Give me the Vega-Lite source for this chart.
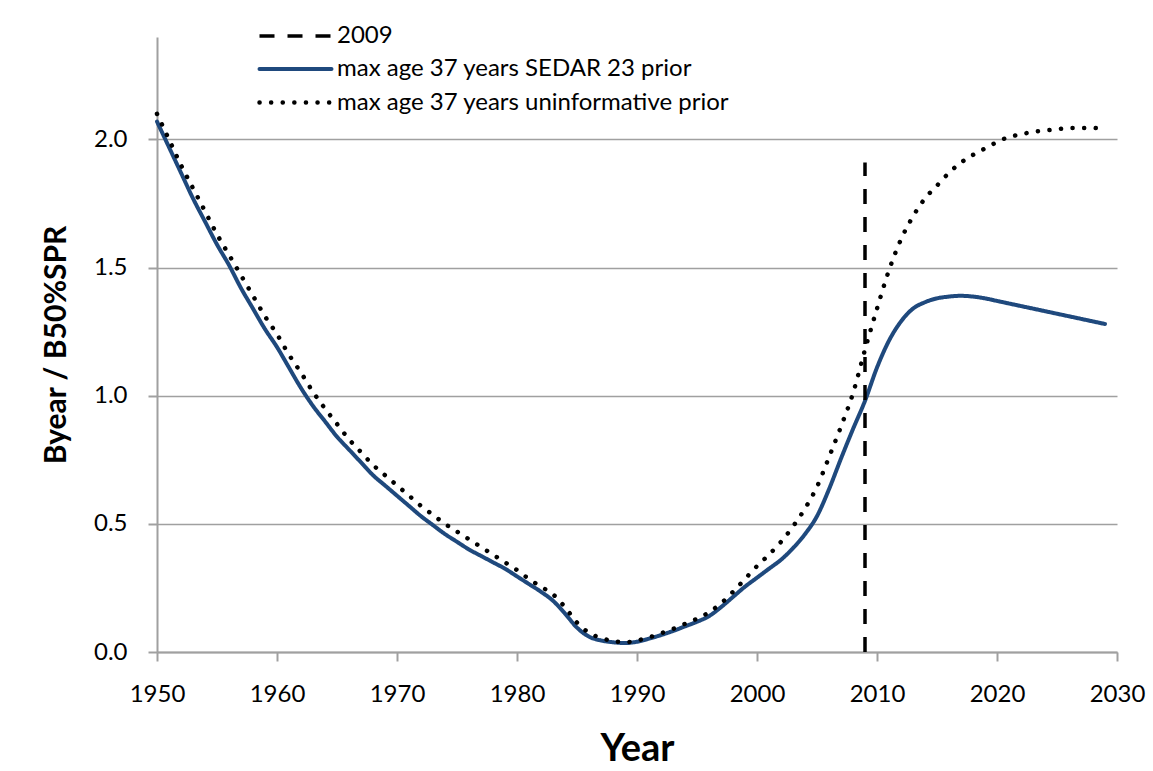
{
  "$schema": "https://vega.github.io/schema/vega-lite/v6.json",
  "width": 960,
  "height": 615,
  "autosize": {"type": "none"},
  "padding": {"left": 157, "top": 37, "right": 36, "bottom": 119},
  "background": "white",
  "datasets": {
    "series": [
      {"series": "max age 37 years SEDAR 23 prior", "year": 1950, "v": 2.07},
      {"series": "max age 37 years SEDAR 23 prior", "year": 1951, "v": 1.97},
      {"series": "max age 37 years SEDAR 23 prior", "year": 1952, "v": 1.87},
      {"series": "max age 37 years SEDAR 23 prior", "year": 1953, "v": 1.77},
      {"series": "max age 37 years SEDAR 23 prior", "year": 1954, "v": 1.68},
      {"series": "max age 37 years SEDAR 23 prior", "year": 1955, "v": 1.59},
      {"series": "max age 37 years SEDAR 23 prior", "year": 1956, "v": 1.51},
      {"series": "max age 37 years SEDAR 23 prior", "year": 1957, "v": 1.42},
      {"series": "max age 37 years SEDAR 23 prior", "year": 1958, "v": 1.34},
      {"series": "max age 37 years SEDAR 23 prior", "year": 1959, "v": 1.26},
      {"series": "max age 37 years SEDAR 23 prior", "year": 1960, "v": 1.19},
      {"series": "max age 37 years SEDAR 23 prior", "year": 1961, "v": 1.11},
      {"series": "max age 37 years SEDAR 23 prior", "year": 1962, "v": 1.03},
      {"series": "max age 37 years SEDAR 23 prior", "year": 1963, "v": 0.96},
      {"series": "max age 37 years SEDAR 23 prior", "year": 1964, "v": 0.9},
      {"series": "max age 37 years SEDAR 23 prior", "year": 1965, "v": 0.84},
      {"series": "max age 37 years SEDAR 23 prior", "year": 1966, "v": 0.79},
      {"series": "max age 37 years SEDAR 23 prior", "year": 1967, "v": 0.74},
      {"series": "max age 37 years SEDAR 23 prior", "year": 1968, "v": 0.69},
      {"series": "max age 37 years SEDAR 23 prior", "year": 1969, "v": 0.65},
      {"series": "max age 37 years SEDAR 23 prior", "year": 1970, "v": 0.61},
      {"series": "max age 37 years SEDAR 23 prior", "year": 1971, "v": 0.57},
      {"series": "max age 37 years SEDAR 23 prior", "year": 1972, "v": 0.53},
      {"series": "max age 37 years SEDAR 23 prior", "year": 1973, "v": 0.495},
      {"series": "max age 37 years SEDAR 23 prior", "year": 1974, "v": 0.46},
      {"series": "max age 37 years SEDAR 23 prior", "year": 1975, "v": 0.43},
      {"series": "max age 37 years SEDAR 23 prior", "year": 1976, "v": 0.4},
      {"series": "max age 37 years SEDAR 23 prior", "year": 1977, "v": 0.375},
      {"series": "max age 37 years SEDAR 23 prior", "year": 1978, "v": 0.35},
      {"series": "max age 37 years SEDAR 23 prior", "year": 1979, "v": 0.325},
      {"series": "max age 37 years SEDAR 23 prior", "year": 1980, "v": 0.295},
      {"series": "max age 37 years SEDAR 23 prior", "year": 1981, "v": 0.265},
      {"series": "max age 37 years SEDAR 23 prior", "year": 1982, "v": 0.235},
      {"series": "max age 37 years SEDAR 23 prior", "year": 1983, "v": 0.2},
      {"series": "max age 37 years SEDAR 23 prior", "year": 1984, "v": 0.15},
      {"series": "max age 37 years SEDAR 23 prior", "year": 1985, "v": 0.095},
      {"series": "max age 37 years SEDAR 23 prior", "year": 1986, "v": 0.06},
      {"series": "max age 37 years SEDAR 23 prior", "year": 1987, "v": 0.045},
      {"series": "max age 37 years SEDAR 23 prior", "year": 1988, "v": 0.038},
      {"series": "max age 37 years SEDAR 23 prior", "year": 1989, "v": 0.035},
      {"series": "max age 37 years SEDAR 23 prior", "year": 1990, "v": 0.04},
      {"series": "max age 37 years SEDAR 23 prior", "year": 1991, "v": 0.052},
      {"series": "max age 37 years SEDAR 23 prior", "year": 1992, "v": 0.066},
      {"series": "max age 37 years SEDAR 23 prior", "year": 1993, "v": 0.082},
      {"series": "max age 37 years SEDAR 23 prior", "year": 1994, "v": 0.1},
      {"series": "max age 37 years SEDAR 23 prior", "year": 1995, "v": 0.118},
      {"series": "max age 37 years SEDAR 23 prior", "year": 1996, "v": 0.14},
      {"series": "max age 37 years SEDAR 23 prior", "year": 1997, "v": 0.175},
      {"series": "max age 37 years SEDAR 23 prior", "year": 1998, "v": 0.215},
      {"series": "max age 37 years SEDAR 23 prior", "year": 1999, "v": 0.255},
      {"series": "max age 37 years SEDAR 23 prior", "year": 2000, "v": 0.29},
      {"series": "max age 37 years SEDAR 23 prior", "year": 2001, "v": 0.325},
      {"series": "max age 37 years SEDAR 23 prior", "year": 2002, "v": 0.36},
      {"series": "max age 37 years SEDAR 23 prior", "year": 2003, "v": 0.405},
      {"series": "max age 37 years SEDAR 23 prior", "year": 2004, "v": 0.46},
      {"series": "max age 37 years SEDAR 23 prior", "year": 2005, "v": 0.53},
      {"series": "max age 37 years SEDAR 23 prior", "year": 2006, "v": 0.635},
      {"series": "max age 37 years SEDAR 23 prior", "year": 2007, "v": 0.755},
      {"series": "max age 37 years SEDAR 23 prior", "year": 2008, "v": 0.87},
      {"series": "max age 37 years SEDAR 23 prior", "year": 2009, "v": 0.98},
      {"series": "max age 37 years SEDAR 23 prior", "year": 2010, "v": 1.11},
      {"series": "max age 37 years SEDAR 23 prior", "year": 2011, "v": 1.215},
      {"series": "max age 37 years SEDAR 23 prior", "year": 2012, "v": 1.29},
      {"series": "max age 37 years SEDAR 23 prior", "year": 2013, "v": 1.34},
      {"series": "max age 37 years SEDAR 23 prior", "year": 2014, "v": 1.365},
      {"series": "max age 37 years SEDAR 23 prior", "year": 2015, "v": 1.38},
      {"series": "max age 37 years SEDAR 23 prior", "year": 2016, "v": 1.387},
      {"series": "max age 37 years SEDAR 23 prior", "year": 2017, "v": 1.39},
      {"series": "max age 37 years SEDAR 23 prior", "year": 2018, "v": 1.387},
      {"series": "max age 37 years SEDAR 23 prior", "year": 2019, "v": 1.38},
      {"series": "max age 37 years SEDAR 23 prior", "year": 2020, "v": 1.37},
      {"series": "max age 37 years SEDAR 23 prior", "year": 2021, "v": 1.36},
      {"series": "max age 37 years SEDAR 23 prior", "year": 2022, "v": 1.35},
      {"series": "max age 37 years SEDAR 23 prior", "year": 2023, "v": 1.34},
      {"series": "max age 37 years SEDAR 23 prior", "year": 2024, "v": 1.33},
      {"series": "max age 37 years SEDAR 23 prior", "year": 2025, "v": 1.32},
      {"series": "max age 37 years SEDAR 23 prior", "year": 2026, "v": 1.31},
      {"series": "max age 37 years SEDAR 23 prior", "year": 2027, "v": 1.3},
      {"series": "max age 37 years SEDAR 23 prior", "year": 2028, "v": 1.29},
      {"series": "max age 37 years SEDAR 23 prior", "year": 2029, "v": 1.28},
      {"series": "max age 37 years uninformative prior", "year": 1950, "v": 2.1},
      {"series": "max age 37 years uninformative prior", "year": 1951, "v": 2.0},
      {"series": "max age 37 years uninformative prior", "year": 1952, "v": 1.9},
      {"series": "max age 37 years uninformative prior", "year": 1953, "v": 1.81},
      {"series": "max age 37 years uninformative prior", "year": 1954, "v": 1.72},
      {"series": "max age 37 years uninformative prior", "year": 1955, "v": 1.63},
      {"series": "max age 37 years uninformative prior", "year": 1956, "v": 1.55},
      {"series": "max age 37 years uninformative prior", "year": 1957, "v": 1.47},
      {"series": "max age 37 years uninformative prior", "year": 1958, "v": 1.39},
      {"series": "max age 37 years uninformative prior", "year": 1959, "v": 1.31},
      {"series": "max age 37 years uninformative prior", "year": 1960, "v": 1.24},
      {"series": "max age 37 years uninformative prior", "year": 1961, "v": 1.16},
      {"series": "max age 37 years uninformative prior", "year": 1962, "v": 1.09},
      {"series": "max age 37 years uninformative prior", "year": 1963, "v": 1.015},
      {"series": "max age 37 years uninformative prior", "year": 1964, "v": 0.95},
      {"series": "max age 37 years uninformative prior", "year": 1965, "v": 0.89},
      {"series": "max age 37 years uninformative prior", "year": 1966, "v": 0.83},
      {"series": "max age 37 years uninformative prior", "year": 1967, "v": 0.78},
      {"series": "max age 37 years uninformative prior", "year": 1968, "v": 0.73},
      {"series": "max age 37 years uninformative prior", "year": 1969, "v": 0.69},
      {"series": "max age 37 years uninformative prior", "year": 1970, "v": 0.65},
      {"series": "max age 37 years uninformative prior", "year": 1971, "v": 0.61},
      {"series": "max age 37 years uninformative prior", "year": 1972, "v": 0.57},
      {"series": "max age 37 years uninformative prior", "year": 1973, "v": 0.535},
      {"series": "max age 37 years uninformative prior", "year": 1974, "v": 0.5},
      {"series": "max age 37 years uninformative prior", "year": 1975, "v": 0.47},
      {"series": "max age 37 years uninformative prior", "year": 1976, "v": 0.44},
      {"series": "max age 37 years uninformative prior", "year": 1977, "v": 0.41},
      {"series": "max age 37 years uninformative prior", "year": 1978, "v": 0.38},
      {"series": "max age 37 years uninformative prior", "year": 1979, "v": 0.35},
      {"series": "max age 37 years uninformative prior", "year": 1980, "v": 0.32},
      {"series": "max age 37 years uninformative prior", "year": 1981, "v": 0.285},
      {"series": "max age 37 years uninformative prior", "year": 1982, "v": 0.255},
      {"series": "max age 37 years uninformative prior", "year": 1983, "v": 0.225},
      {"series": "max age 37 years uninformative prior", "year": 1984, "v": 0.175},
      {"series": "max age 37 years uninformative prior", "year": 1985, "v": 0.115},
      {"series": "max age 37 years uninformative prior", "year": 1986, "v": 0.075},
      {"series": "max age 37 years uninformative prior", "year": 1987, "v": 0.055},
      {"series": "max age 37 years uninformative prior", "year": 1988, "v": 0.043},
      {"series": "max age 37 years uninformative prior", "year": 1989, "v": 0.038},
      {"series": "max age 37 years uninformative prior", "year": 1990, "v": 0.045},
      {"series": "max age 37 years uninformative prior", "year": 1991, "v": 0.057},
      {"series": "max age 37 years uninformative prior", "year": 1992, "v": 0.073},
      {"series": "max age 37 years uninformative prior", "year": 1993, "v": 0.09},
      {"series": "max age 37 years uninformative prior", "year": 1994, "v": 0.11},
      {"series": "max age 37 years uninformative prior", "year": 1995, "v": 0.13},
      {"series": "max age 37 years uninformative prior", "year": 1996, "v": 0.155},
      {"series": "max age 37 years uninformative prior", "year": 1997, "v": 0.19},
      {"series": "max age 37 years uninformative prior", "year": 1998, "v": 0.235},
      {"series": "max age 37 years uninformative prior", "year": 1999, "v": 0.285},
      {"series": "max age 37 years uninformative prior", "year": 2000, "v": 0.335},
      {"series": "max age 37 years uninformative prior", "year": 2001, "v": 0.38},
      {"series": "max age 37 years uninformative prior", "year": 2002, "v": 0.43},
      {"series": "max age 37 years uninformative prior", "year": 2003, "v": 0.49},
      {"series": "max age 37 years uninformative prior", "year": 2004, "v": 0.56},
      {"series": "max age 37 years uninformative prior", "year": 2005, "v": 0.645},
      {"series": "max age 37 years uninformative prior", "year": 2006, "v": 0.76},
      {"series": "max age 37 years uninformative prior", "year": 2007, "v": 0.88},
      {"series": "max age 37 years uninformative prior", "year": 2008, "v": 1.01},
      {"series": "max age 37 years uninformative prior", "year": 2009, "v": 1.18},
      {"series": "max age 37 years uninformative prior", "year": 2010, "v": 1.34},
      {"series": "max age 37 years uninformative prior", "year": 2011, "v": 1.49},
      {"series": "max age 37 years uninformative prior", "year": 2012, "v": 1.61},
      {"series": "max age 37 years uninformative prior", "year": 2013, "v": 1.7},
      {"series": "max age 37 years uninformative prior", "year": 2014, "v": 1.77},
      {"series": "max age 37 years uninformative prior", "year": 2015, "v": 1.82},
      {"series": "max age 37 years uninformative prior", "year": 2016, "v": 1.87},
      {"series": "max age 37 years uninformative prior", "year": 2017, "v": 1.91},
      {"series": "max age 37 years uninformative prior", "year": 2018, "v": 1.94},
      {"series": "max age 37 years uninformative prior", "year": 2019, "v": 1.965},
      {"series": "max age 37 years uninformative prior", "year": 2020, "v": 1.99},
      {"series": "max age 37 years uninformative prior", "year": 2021, "v": 2.01},
      {"series": "max age 37 years uninformative prior", "year": 2022, "v": 2.02},
      {"series": "max age 37 years uninformative prior", "year": 2023, "v": 2.03},
      {"series": "max age 37 years uninformative prior", "year": 2024, "v": 2.035},
      {"series": "max age 37 years uninformative prior", "year": 2025, "v": 2.04},
      {"series": "max age 37 years uninformative prior", "year": 2026, "v": 2.045},
      {"series": "max age 37 years uninformative prior", "year": 2027, "v": 2.045},
      {"series": "max age 37 years uninformative prior", "year": 2028, "v": 2.045},
      {"series": "max age 37 years uninformative prior", "year": 2029, "v": 2.04}
    ],
    "marker": [
      {"series": "2009", "year": 2009, "lo": 0, "hi": 1.91}
    ]
  },
  "encoding": {
    "x": {
      "field": "year",
      "type": "quantitative",
      "scale": {"domain": [1950, 2030], "nice": false, "zero": false},
      "axis": {
        "values": [1950, 1960, 1970, 1980, 1990, 2000, 2010, 2020, 2030],
        "format": "d",
        "grid": false,
        "labelPadding": 21,
        "labelFlush": false,
        "title": "Year",
        "titleFontSize": 38,
        "titleFontWeight": "bold",
        "titlePadding": 24
      }
    },
    "color": {
      "field": "series",
      "type": "nominal",
      "scale": {
        "domain": ["2009", "max age 37 years SEDAR 23 prior", "max age 37 years uninformative prior"],
        "range": ["#000000", "#1F497D", "#000000"]
      },
      "legend": {
        "encode": {
          "symbols": {
            "update": {
              "strokeCap": {"signal": "datum.value === '2009' ? 'butt' : 'round'"}
            }
          }
        }
      }
    },
    "strokeDash": {
      "field": "series",
      "type": "nominal",
      "scale": {
        "domain": ["2009", "max age 37 years SEDAR 23 prior", "max age 37 years uninformative prior"],
        "range": [[15, 13], [1, 0], [0.1, 11.5]]
      }
    },
    "strokeWidth": {
      "field": "series",
      "type": "nominal",
      "scale": {
        "domain": ["2009", "max age 37 years SEDAR 23 prior", "max age 37 years uninformative prior"],
        "range": [3.5, 4.5, 4.5]
      }
    }
  },
  "layer": [
    {
      "data": {"name": "series"},
      "mark": {"type": "line", "interpolate": "monotone", "strokeCap": "round"},
      "encoding": {
        "y": {
          "field": "v",
          "type": "quantitative",
          "scale": {"domain": [0, 2.4], "nice": false},
          "axis": {
            "values": [0, 0.5, 1, 1.5, 2],
            "format": ".1f",
            "grid": true,
            "labelPadding": 21,
            "title": "Byear / B50%SPR",
            "titleFontSize": 30,
            "titleFontWeight": "bold",
            "titlePadding": 22
          }
        }
      }
    },
    {
      "data": {"name": "marker"},
      "mark": {"type": "rule", "strokeCap": "butt"},
      "encoding": {
        "y": {"field": "lo", "type": "quantitative"},
        "y2": {"field": "hi"}
      }
    }
  ],
  "config": {
    "view": {"stroke": null},
    "font": "Lato",
    "axis": {
      "labelFont": "Lato",
      "labelFontSize": 24,
      "labelColor": "black",
      "titleFont": "Lato",
      "titleColor": "black",
      "domainColor": "#a0a0a0",
      "domainWidth": 2,
      "tickColor": "#a0a0a0",
      "tickWidth": 2,
      "tickSize": 9,
      "gridColor": "#a0a0a0",
      "gridWidth": 1.5
    },
    "legend": {
      "orient": "none",
      "legendX": 118,
      "legendY": -21,
      "title": null,
      "padding": 0,
      "symbolType": "M-2,0H2",
      "symbolSize": 1296,
      "labelFont": "Lato",
      "labelFontSize": 24,
      "labelColor": "black",
      "labelOffset": 21,
      "rowPadding": 1,
      "labelLimit": 600
    }
  }
}
